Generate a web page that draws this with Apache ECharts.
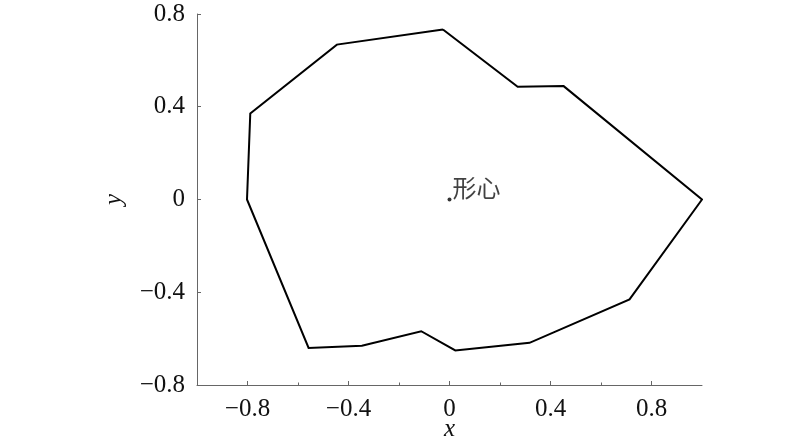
<!DOCTYPE html>
<html>
<head>
<meta charset="utf-8">
<script src="https://cdn.jsdelivr.net/npm/echarts@6/dist/echarts.min.js"></script>
<style>html,body{margin:0;padding:0;background:#fff;}#c{width:800px;height:444px;}</style>
</head>
<body>
<div id="c"></div>
<script>
// Polygon vertices (x, y), closed by repeating the first point
const polyX = [-0.026, 0.270, 0.452, 1.000, 0.713, 0.317, 0.023, -0.112, -0.347, -0.558, -0.802, -0.789, -0.446, -0.026];
const polyY = [0.733, 0.486, 0.489, 0.000, -0.431, -0.618, -0.651, -0.568, -0.631, -0.640, 0.000, 0.371, 0.668, 0.733];
const centroid = [0, 0];
const centroidLabel = '形心';
const xMajorTicks = [-0.8, -0.4, 0, 0.4, 0.8];
const xMinorTicks = [-0.6, -0.2, 0.2, 0.6];
const xName = 'x';
const yName = 'y';

const serif = 'Liberation Serif';
const cjk = 'Noto Sans CJK SC';
const fmt = v => (v < 0 ? '\u2212' : '') + Math.abs(Math.round(v * 10) / 10);
const axisColor = '#666';

const chart = echarts.init(document.getElementById('c'), null, { renderer: 'canvas' });
chart.setOption({
  animation: false,
  backgroundColor: '#fff',
  grid: { left: 197, right: 98, top: 14, bottom: 59, containLabel: false, outerBoundsMode: 'none' },
  xAxis: [{
    type: 'value', min: -1, max: 1, position: 'bottom',
    name: xName, nameLocation: 'middle', nameGap: 44, nameMoveOverlap: false,
    nameTextStyle: { fontFamily: serif, fontStyle: 'italic', fontSize: 25, color: '#111', verticalAlign: 'middle' },
    axisLine: { show: true, onZero: false, lineStyle: { color: axisColor, width: 1 } },
    axisTick: { show: true, inside: true, length: 4, customValues: xMajorTicks, lineStyle: { color: axisColor } },
    axisLabel: { show: true, customValues: xMajorTicks, formatter: fmt, margin: 12,
      fontFamily: serif, fontSize: 25, color: '#111' },
    splitLine: { show: false }
  }, {
    type: 'value', min: -1, max: 1, position: 'bottom', offset: 0,
    axisLine: { show: false, onZero: false },
    axisTick: { show: true, inside: true, length: 2.5, customValues: xMinorTicks, lineStyle: { color: axisColor } },
    axisLabel: { show: false },
    splitLine: { show: false }
  }],
  yAxis: {
    type: 'value', min: -0.8, max: 0.8, interval: 0.4,
    name: yName, nameLocation: 'middle', nameGap: 83, nameRotate: 90, nameMoveOverlap: false,
    nameTextStyle: { fontFamily: serif, fontStyle: 'italic', fontSize: 25, color: '#111', verticalAlign: 'middle' },
    axisLine: { show: true, onZero: false, lineStyle: { color: axisColor, width: 1 } },
    axisTick: { show: true, inside: true, length: 4, lineStyle: { color: axisColor } },
    axisLabel: { formatter: fmt, margin: 12, fontFamily: serif, fontSize: 25, color: '#111' },
    splitLine: { show: false }
  },
  series: [{
    type: 'line',
    data: polyX.map((x, i) => [x, polyY[i]]),
    showSymbol: false, symbol: 'none',
    lineStyle: { color: '#000', width: 2, join: 'miter' },
    silent: true
  }, {
    type: 'scatter',
    data: [centroid],
    symbol: 'circle', symbolSize: 4,
    itemStyle: { color: '#000' },
    label: { show: true, formatter: centroidLabel, position: 'right', distance: 1, offset: [0, -12],
      fontFamily: cjk, fontSize: 24, color: '#111' }
  }]
});
</script>
</body>
</html>
